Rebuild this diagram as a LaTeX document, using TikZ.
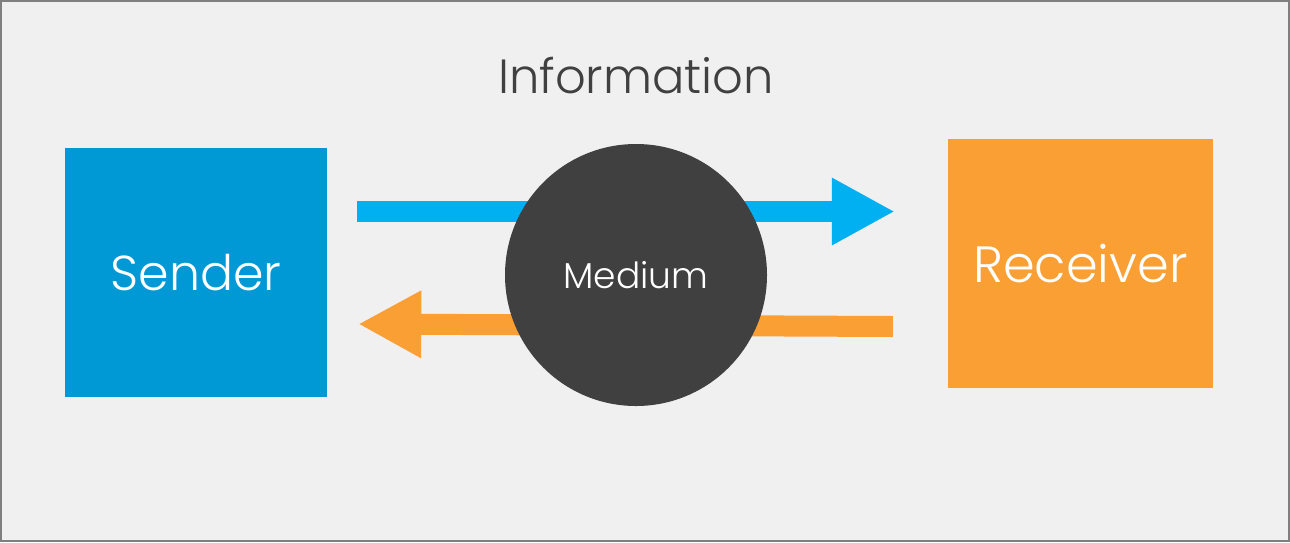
\documentclass[tikz,border=0pt]{standalone}
\usepackage{fontspec}
\setmainfont{Poppins Light}
\usetikzlibrary{arrows.meta}
\definecolor{bg}{HTML}{F0F0F0}
\definecolor{frame}{HTML}{7F7F7F}
\definecolor{sendblue}{HTML}{0099D5}
\definecolor{arrowblue}{HTML}{00B0F0}
\definecolor{recvorange}{HTML}{F99F33}
\definecolor{medgray}{HTML}{404040}
\definecolor{textgray}{HTML}{404040}
\tikzset{
  box/.style={draw=none, minimum width=262pt, minimum height=249pt, inner sep=0pt, text=white},
  flow/.style={line width=21pt, -{Triangle[length=63pt,width=63pt]}},
}
\begin{document}
\begin{tikzpicture}[x=1pt,y=-1pt]
\useasboundingbox (0,0) rectangle (1290,542);
\fill[frame] (0,0) rectangle (1290,542);
\fill[bg] (2,2) rectangle (1288,540);
\node[box, fill=sendblue, font=\fontsize{49}{52}\selectfont] (sender) at (196,272.5) {Sender};
\node[box, fill=recvorange, minimum width=265pt, font=\fontsize{51}{54}\selectfont] (receiver) at (1080.5,263.5) {Receiver};
\coordinate (bs) at ([xshift=30pt,yshift=61pt]sender.east);
\coordinate (be) at ([xshift=-53pt,yshift=52pt]receiver.west);
\coordinate (os) at ([xshift=-55pt,yshift=-63pt]receiver.west);
\coordinate (oe) at ([xshift=31pt,yshift=-51.5pt]sender.east);
\draw[flow, arrowblue] (bs) -- (be);
\draw[flow, recvorange] (os) -- (oe);
\node[circle, fill=medgray, minimum size=262pt, inner sep=0pt, text=white, font=\fontsize{36}{40}\selectfont] (medium) at (636,275) {Medium};
\node[text=textgray, font=\fontsize{48}{52}\selectfont] (info) at (636,76) {Information};
\end{tikzpicture}
\end{document}
